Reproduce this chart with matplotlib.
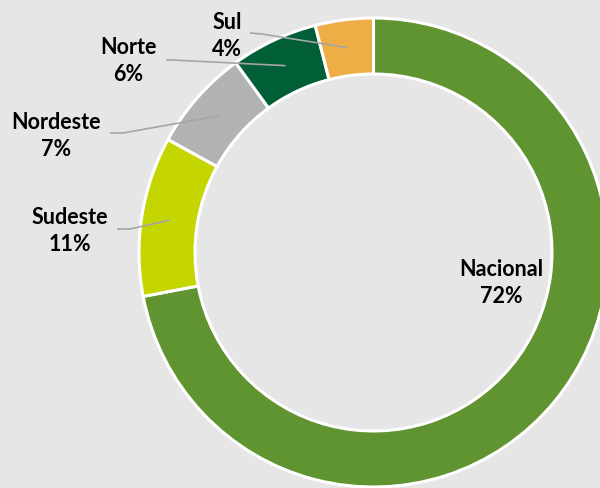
import numpy as np
import matplotlib.pyplot as plt

# Participação por região
regioes = ["Nacional", "Sudeste", "Nordeste", "Norte", "Sul"]
percentuais = [72, 11, 7, 6, 4]
cores = ["#5f9430", "#c5d500", "#b2b2b2", "#005f37", "#eeae45"]

W, H = 600, 488
fundo = "#e6e6e6"

# posição dos rótulos (px a partir do topo) e início das linhas guia
pos_rotulo = {
    "Nacional": (501, 283),
    "Sudeste": (70, 231),
    "Nordeste": (56, 136),
    "Norte": (128, 61),
    "Sul": (227, 36),
}
inicio_linha = {
    "Sudeste": [(117, 229), (130, 229)],
    "Nordeste": [(110, 133), (123, 133)],
    "Norte": [(166, 60), (172, 60)],
    "Sul": [(250, 33), (262, 34)],
}

fig = plt.figure(figsize=(6, 4.88), dpi=100, facecolor=fundo)
ax = fig.add_axes([0, 0, 1, 1])
ax.set_facecolor(fundo)

cx, cy, r = 373.5, H - 252.5, 234.5
largura = 56

wedges, _ = ax.pie(
    percentuais,
    colors=cores,
    startangle=90,
    counterclock=False,
    radius=r,
    center=(cx, cy),
    wedgeprops=dict(width=largura, edgecolor="white", linewidth=2.2),
)

ax.set_xlim(0, W)
ax.set_ylim(0, H)
ax.set_aspect("equal")
ax.axis("off")

for nome, pct, w in zip(regioes, percentuais, wedges):
    tx, ty = pos_rotulo[nome]
    ax.text(tx, H - ty, f"{nome}\n{pct}%", ha="center", va="center",
            fontsize=15.5, fontweight="bold", family="Lato", color="black",
            linespacing=1.4)
    if nome in inicio_linha:
        ang = np.deg2rad((w.theta1 + w.theta2) / 2)
        rm = r - largura / 2
        ex, ey = cx + rm * np.cos(ang), cy + rm * np.sin(ang)
        pts = inicio_linha[nome]
        xs = [p[0] for p in pts] + [ex]
        ys = [H - p[1] for p in pts] + [ey]
        ax.plot(xs, ys, color="#a6a6a6", lw=1.2, solid_capstyle="butt")

fig.savefig("out.png", dpi=100, facecolor=fundo)
